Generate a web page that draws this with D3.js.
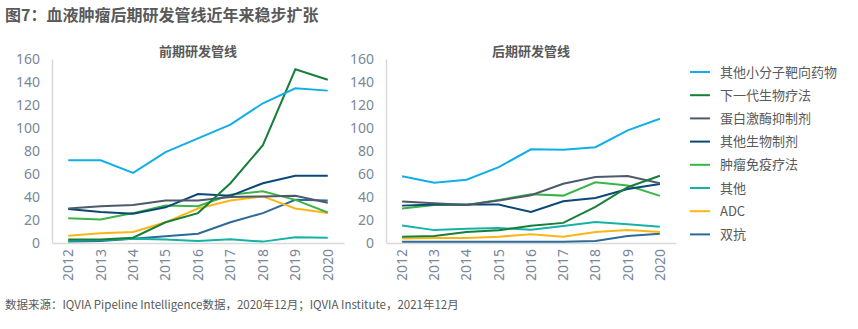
<!DOCTYPE html>
<html>
<head>
<meta charset="utf-8">
<script src="https://cdn.jsdelivr.net/npm/d3@7"></script>
<style>
  body { margin: 0; background: #fff; }
  svg text { font-family: "Noto Sans CJK SC", "Noto Sans", sans-serif; }
</style>
</head>
<body>
<svg id="chart" width="858" height="329"></svg>
<script>
// 年份与系列
var years = ["2012","2013","2014","2015","2016","2017","2018","2019","2020"];
var seriesNames = ["其他小分子靶向药物","下一代生物疗法","蛋白激酶抑制剂","其他生物制剂","肿瘤免疫疗法","其他","ADC","双抗"];
var seriesColors = ["#12aee8","#16803a","#4e5a69","#0c4775","#3bb44a","#14b3a5","#fdb515","#2d6a98"];
var yTicks = [0,20,40,60,80,100,120,140,160];

// 前期研发管线
var early_small = [72,72,61,79,91,103,121.5,134.5,132.5];
var early_nextgen = [3,3,4.6,18,26,52,85,151,142];
var early_kinase = [30,32,33,37,37,40,40.5,41,35];
var early_bio = [29.5,27,25.5,31,42.5,41,52,58.5,58.5];
var early_io = [21.5,20.5,26,32.5,32,42,45,37.5,26.5];
var early_other = [2,2.5,3.8,3,1.7,3.2,1.2,5,4.6];
var early_adc = [6.4,8.4,9.5,18,30,37,40.5,30,26];
var early_bispec = [1.4,1.7,3.8,5.8,8,18,26,37.5,37];

// 后期研发管线
var late_small = [58,52.5,55,66,81.5,81,83.3,98,108];
var late_nextgen = [5.5,6,9.5,11,15,17.5,31.5,48.5,58.5];
var late_kinase = [36,34.6,33,37,41.5,51.5,57.4,58.2,52];
var late_bio = [32.5,33.4,33.4,33.4,27,36.3,39.2,47,51.3];
var late_io = [30,33,33,37.5,42.4,41.2,52.8,50,41];
var late_other = [15.3,11.2,12.4,13,11.5,14.7,18.2,16.4,14.1];
var late_adc = [4,4.3,4.3,5.5,7.5,5.5,9.5,11.2,9.5];
var late_bispec = [1,1,1,1,1,1,1.7,6,8];

var earlyData = [early_small, early_nextgen, early_kinase, early_bio, early_io, early_other, early_adc, early_bispec];
var lateData = [late_small, late_nextgen, late_kinase, late_bio, late_io, late_other, late_adc, late_bispec];

var svg = d3.select("#chart");

svg.append("text")
    .attr("x", 5).attr("y", 21)
    .attr("font-size", 16).attr("font-weight", "bold")
    .attr("fill", "#595959")
    .text("图7：血液肿瘤后期研发管线近年来稳步扩张");

svg.append("text")
    .attr("x", 5).attr("y", 309)
    .attr("font-size", 11.5)
    .attr("fill", "#595959")
    .text("数据来源：IQVIA Pipeline Intelligence数据，2020年12月；IQVIA Institute，2021年12月");

function drawPanel(data, title, left, right) {
    let x = d3.scaleBand().domain(years).range([left, right]);
    let y = d3.scaleLinear().domain([0, 160]).range([243, 59]);
    let g = svg.append("g");

    g.append("text")
        .attr("x", (left + right) / 2).attr("y", 56)
        .attr("text-anchor", "middle")
        .attr("font-size", 13).attr("font-weight", "bold")
        .attr("fill", "#595959")
        .text(title);

    // y 轴
    let yAxis = g.append("g")
        .attr("transform", "translate(" + left + ",0)")
        .call(d3.axisLeft(y).tickValues(yTicks).tickSize(0).tickPadding(12));
    yAxis.select(".domain").attr("stroke", "#d9d9d9").attr("stroke-width", 1.5);
    yAxis.selectAll("text")
        .attr("font-size", 14).attr("fill", "#7a8797")
        .style("font-family", "'Source Sans Pro', 'Noto Sans', sans-serif");

    // x 轴
    let xAxis = g.append("g")
        .attr("transform", "translate(0,243)")
        .call(d3.axisBottom(x).tickSize(0).tickPadding(0));
    xAxis.select(".domain").attr("stroke", "#d9d9d9").attr("stroke-width", 1.5);
    xAxis.selectAll("text")
        .attr("font-size", 14).attr("fill", "#7a8797")
        .attr("transform", "rotate(-90)")
        .attr("text-anchor", "end")
        .attr("dy", "0.35em")
        .attr("x", -6).attr("y", 0)
        .style("font-family", "'Noto Sans', sans-serif");

    let line = d3.line()
        .x((d, i) => x(years[i]) + x.bandwidth() / 2)
        .y(d => y(d));

    // 逆序绘制，使第一条系列在最上层
    for (let k = data.length - 1; k >= 0; k--) {
        g.append("path")
            .attr("d", line(data[k]))
            .attr("fill", "none")
            .attr("stroke", seriesColors[k])
            .attr("stroke-width", 2);
    }
}

drawPanel(earlyData, "前期研发管线", 52, 344);
drawPanel(lateData, "后期研发管线", 386, 676);

// 图例
let legend = svg.append("g");
seriesNames.forEach((name, i) => {
    let ly = 72 + i * 23.2;
    legend.append("line")
        .attr("x1", 690).attr("x2", 710)
        .attr("y1", ly).attr("y2", ly)
        .attr("stroke", seriesColors[i]).attr("stroke-width", 2);
    legend.append("text")
        .attr("x", 720).attr("y", ly)
        .attr("dy", "0.36em")
        .attr("font-size", 13)
        .attr("fill", "#595959")
        .text(name);
});
</script>
</body>
</html>
